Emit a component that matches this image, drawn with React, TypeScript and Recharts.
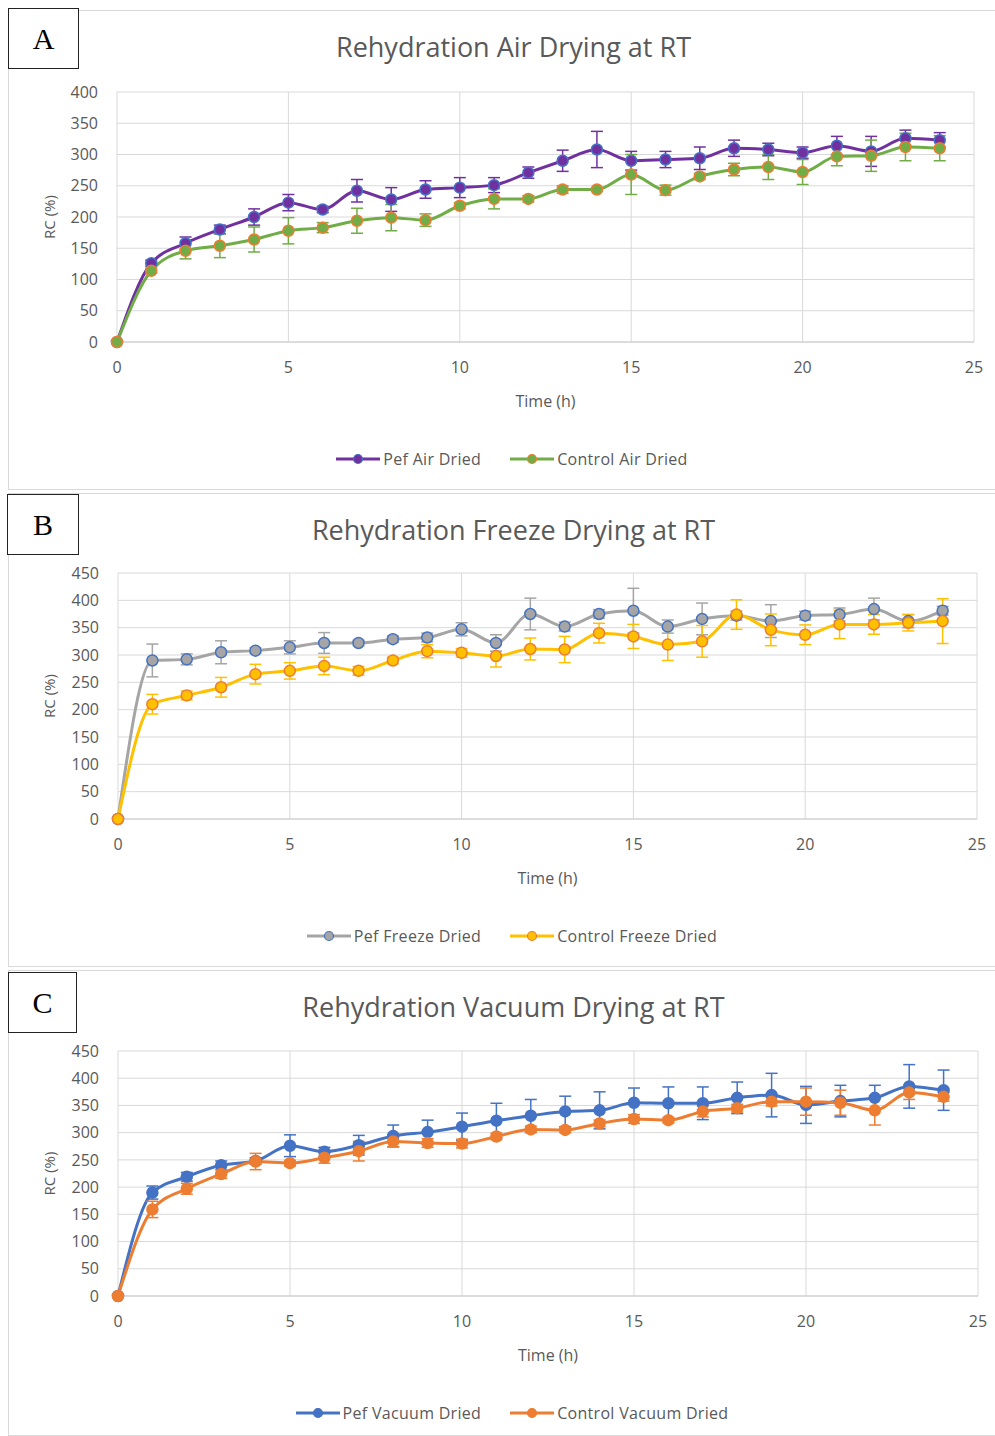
import React from "react";
import { CartesianGrid, ErrorBar, Legend, Line, LineChart, XAxis, YAxis } from "recharts";

// time points (h)
const TIME = [0, 1, 2, 3, 4, 5, 6, 7, 8, 9, 10, 11, 12, 13, 14, 15, 16, 17, 18, 19, 20, 21, 22, 23, 24];
const X_TICKS = [0, 5, 10, 15, 20, 25];
const Y_TICKS_A = [0, 50, 100, 150, 200, 250, 300, 350, 400];
const Y_TICKS_BC = [0, 50, 100, 150, 200, 250, 300, 350, 400, 450];

// A — air drying
const AIR_PEF = [0, 126, 158, 180, 200, 223, 212, 242, 228, 244, 247, 251, 271, 290, 308, 290, 292, 294, 310, 308, 303, 314, 305, 326, 323];
const AIR_PEF_ERR = [0, 5, 10, 7, 13, 13, 5, 18, 19, 14, 16, 12, 9, 17, 29, 15, 13, 18, 13, 10, 9, 15, 24, 13, 12];
const AIR_CTRL = [0, 114, 146, 154, 164, 178, 183, 194, 199, 195, 218, 229, 229, 244, 244, 268, 243, 265, 276, 280, 272, 297, 298, 312, 310];
const AIR_CTRL_ERR = [0, 4, 13, 19, 20, 21, 8, 20, 21, 10, 5, 16, 5, 6, 3, 32, 8, 5, 10, 20, 20, 15, 25, 22, 20];

// B — freeze drying
const FRZ_PEF = [0, 290, 292, 305, 308, 314, 322, 322, 329, 332, 347, 322, 375, 352, 375, 381, 352, 366, 372, 362, 372, 374, 384, 362, 381];
const FRZ_PEF_ERR = [0, 30, 10, 21, 5, 12, 19, 5, 6, 8, 12, 15, 29, 8, 8, 41, 12, 29, 8, 30, 8, 12, 20, 12, 8];
const FRZ_CTRL = [0, 210, 226, 241, 265, 271, 280, 271, 290, 307, 304, 298, 311, 310, 340, 334, 319, 325, 374, 346, 337, 356, 356, 359, 362];
const FRZ_CTRL_ERR = [0, 18, 8, 18, 18, 15, 16, 8, 6, 12, 8, 20, 20, 24, 18, 22, 29, 29, 27, 29, 18, 26, 18, 15, 41];

// C — vacuum drying
const VAC_PEF = [0, 190, 219, 240, 248, 276, 265, 277, 294, 301, 311, 322, 331, 339, 341, 355, 354, 354, 364, 369, 351, 358, 364, 385, 378];
const VAC_PEF_ERR = [0, 12, 8, 8, 6, 20, 8, 18, 20, 22, 25, 32, 30, 28, 34, 27, 30, 30, 29, 40, 34, 29, 23, 40, 37];
const VAC_CTRL = [0, 159, 197, 224, 247, 244, 254, 266, 284, 281, 280, 293, 306, 305, 317, 325, 323, 339, 345, 357, 357, 355, 341, 374, 366];
const VAC_CTRL_ERR = [0, 15, 10, 8, 15, 5, 10, 18, 10, 8, 8, 6, 6, 5, 6, 8, 5, 10, 7, 8, 25, 23, 27, 13, 8];

const FONT = "'Open Sans', 'Noto Sans', sans-serif";
const TEXT = "#595959";
const GRID = "#d9d9d9";

type Serie = { name: string; line: string; fill: string; edge: string };

const buildRows = (pef: number[], pefErr: number[], ctrl: number[], ctrlErr: number[]) =>
  TIME.map((t, i) => ({ t, pef: pef[i], pefErr: pefErr[i], ctrl: ctrl[i], ctrlErr: ctrlErr[i] }));

type PanelProps = {
  letter: string;
  title: string;
  rows: ReturnType<typeof buildRows>;
  series: [Serie, Serie];
  yMax: number;
  yTicks: number[];
  top: number;
  height: number;
  marginTop: number;
  plotHeight: number;
  yWidth: number;
  marginRight: number;
  box: { left: number; top: number; width: number; height: number };
};

function Panel(p: PanelProps) {
  const legend = () => (
    <div
      style={{
        display: "flex",
        justifyContent: "center",
        gap: 28,
        paddingLeft: 20,
        fontFamily: FONT,
        fontSize: 16,
        letterSpacing: 0.3,
        color: TEXT,
      }}
    >
      {p.series.map((s) => (
        <div key={s.name} style={{ display: "flex", alignItems: "center" }}>
          <svg width={46} height={14}>
            <line x1={1} y1={7} x2={45} y2={7} stroke={s.line} strokeWidth={3} />
            <circle cx={23} cy={7} r={4.5} fill={s.fill} stroke={s.edge} strokeWidth={1.2} />
          </svg>
          <span style={{ marginLeft: 2 }}>{s.name}</span>
        </div>
      ))}
    </div>
  );

  const keys: ["pef", "ctrl"] = ["pef", "ctrl"];
  const xAxisHeight = 70;
  const marginBottom = p.height - p.marginTop - p.plotHeight - xAxisHeight;

  return (
    <>
      <div
        style={{
          position: "absolute",
          left: 8,
          top: p.top,
          width: 986,
          height: p.height - 2,
          border: `1px solid ${GRID}`,
        }}
      />
      <div
        style={{
          position: "absolute",
          left: 20,
          top: p.top + 18,
          width: 987,
          textAlign: "center",
          fontFamily: FONT,
          fontSize: 27,
          color: TEXT,
        }}
      >
        {p.title}
      </div>
      <div style={{ position: "absolute", left: 8, top: p.top }}>
        <LineChart
          width={987}
          height={p.height}
          data={p.rows}
          margin={{ top: p.marginTop, right: p.marginRight, bottom: marginBottom, left: 0 }}
        >
          <CartesianGrid stroke={GRID} />
          <XAxis
            dataKey="t"
            type="number"
            domain={[0, 25]}
            ticks={X_TICKS}
            height={xAxisHeight}
            tickLine={false}
            tickSize={0}
            tickMargin={20}
            axisLine={{ stroke: "#cccccc" }}
            tick={{ fill: TEXT, fontSize: 16, fontFamily: FONT }}
            label={{ value: "Time (h)", position: "insideBottom", offset: 5, fill: TEXT, fontSize: 16, fontFamily: FONT }}
          />
          <YAxis
            type="number"
            domain={[0, p.yMax]}
            ticks={p.yTicks}
            width={p.yWidth}
            tickLine={false}
            tickSize={0}
            tickMargin={19}
            axisLine={false}
            tick={{ fill: TEXT, fontSize: 16, fontFamily: FONT }}
            label={{
              value: "RC (%)",
              angle: -90,
              position: "insideLeft",
              offset: 42,
              fill: TEXT,
              fontSize: 15,
              fontFamily: FONT,
              style: { textAnchor: "middle" },
            }}
          />
          <Legend
            layout="horizontal"
            verticalAlign="middle"
            align="center"
            content={legend}
            wrapperStyle={{ top: p.marginTop + p.plotHeight + 106, left: 0, width: 987, height: 20 }}
          />
          {p.series.map((s, i) => (
            <Line
              key={s.name}
              name={s.name}
              dataKey={keys[i]}
              type="monotone"
              stroke={s.line}
              strokeWidth={3}
              dot={{ r: 5.5, fill: s.fill, stroke: s.edge, strokeWidth: 1.5 }}
              activeDot={false}
              isAnimationActive={false}
            >
              <ErrorBar dataKey={`${keys[i]}Err`} width={6} stroke={s.line} strokeWidth={1.5} direction="y" />
            </Line>
          ))}
        </LineChart>
      </div>
      <div
        style={{
          position: "absolute",
          left: p.box.left,
          top: p.box.top,
          width: p.box.width,
          height: p.box.height,
          boxSizing: "border-box",
          border: "1.5px solid #222",
          background: "#fff",
          fontFamily: "'Liberation Serif', 'DejaVu Serif', serif",
          fontSize: 30,
          display: "flex",
          alignItems: "center",
          justifyContent: "center",
          color: "#000",
        }}
      >
        {p.letter}
      </div>
    </>
  );
}

export default function App() {
  return (
    <div style={{ position: "absolute", left: 0, top: 0, width: 995, height: 1436, background: "#fff", overflow: "hidden" }}>
      <Panel
        letter="A"
        title="Rehydration Air Drying at RT"
        rows={buildRows(AIR_PEF, AIR_PEF_ERR, AIR_CTRL, AIR_CTRL_ERR)}
        series={[
          { name: "Pef Air Dried", line: "#7030A0", fill: "#7030A0", edge: "#4472C4" },
          { name: "Control Air Dried", line: "#70AD47", fill: "#70AD47", edge: "#ED7D31" },
        ]}
        yMax={400}
        yTicks={Y_TICKS_A}
        top={10}
        height={480}
        marginTop={82}
        plotHeight={250}
        yWidth={109}
        marginRight={21}
        box={{ left: 8, top: 8, width: 71, height: 61 }}
      />
      <Panel
        letter="B"
        title="Rehydration Freeze Drying at RT"
        rows={buildRows(FRZ_PEF, FRZ_PEF_ERR, FRZ_CTRL, FRZ_CTRL_ERR)}
        series={[
          { name: "Pef Freeze Dried", line: "#A5A5A5", fill: "#A5A5A5", edge: "#4472C4" },
          { name: "Control Freeze Dried", line: "#FFC000", fill: "#FFC000", edge: "#ED7D31" },
        ]}
        yMax={450}
        yTicks={Y_TICKS_BC}
        top={493}
        height={474}
        marginTop={80}
        plotHeight={246}
        yWidth={110}
        marginRight={18}
        box={{ left: 7, top: 494, width: 72, height: 61 }}
      />
      <Panel
        letter="C"
        title="Rehydration Vacuum Drying  at RT"
        rows={buildRows(VAC_PEF, VAC_PEF_ERR, VAC_CTRL, VAC_CTRL_ERR)}
        series={[
          { name: "Pef Vacuum Dried", line: "#4472C4", fill: "#4472C4", edge: "#4472C4" },
          { name: "Control Vacuum Dried", line: "#ED7D31", fill: "#ED7D31", edge: "#ED7D31" },
        ]}
        yMax={450}
        yTicks={Y_TICKS_BC}
        top={970}
        height={466}
        marginTop={81}
        plotHeight={245}
        yWidth={110}
        marginRight={17}
        box={{ left: 8, top: 972, width: 69, height: 61 }}
      />
    </div>
  );
}
